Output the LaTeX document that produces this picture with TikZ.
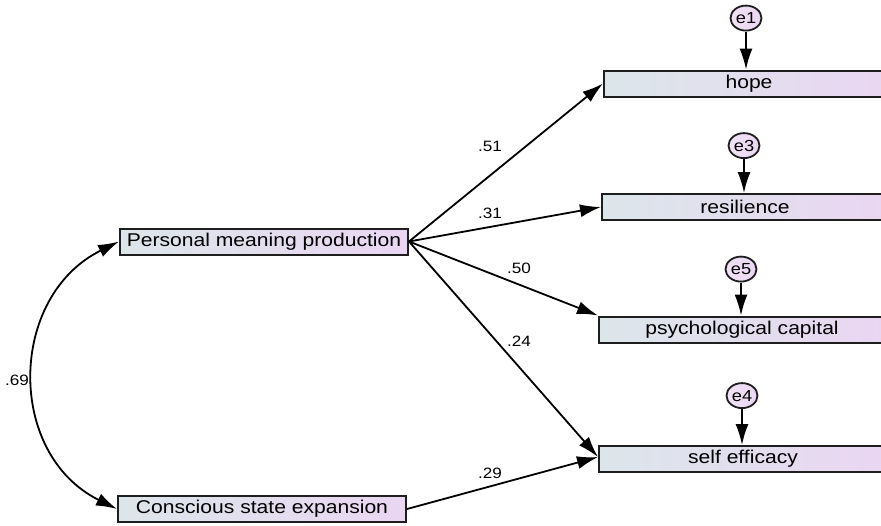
\documentclass[tikz,border=0pt]{standalone}
\usepackage{fontspec}
\setmainfont{Liberation Sans}[FakeStretch=1.14]
\usetikzlibrary{arrows.meta,positioning,shapes.geometric}
\definecolor{bxL}{HTML}{DCE6EA}
\definecolor{bxR}{HTML}{EAD6F2}
\definecolor{edg}{HTML}{1E1E1E}

\begin{document}
\begin{tikzpicture}[x=1pt,y=-1pt,node distance=36pt,
  obs/.style={rectangle,draw=edg,line width=2pt,left color=bxL,right color=bxR,minimum height=26pt,inner sep=0pt,font=\fontsize{18.5}{20}\selectfont},
  err/.style={ellipse,draw=edg,line width=1.8pt,left color=bxR!70!white,right color=bxR,minimum width=31pt,minimum height=25pt,inner sep=0pt,font=\fontsize{16}{17}\selectfont},
  pth/.style={-{Latex[length=21pt,width=13pt]},line width=1.8pt},
  lbl/.style={inner sep=0pt,font=\fontsize{15}{16}\selectfont}]
\useasboundingbox (0,0) rectangle (881,525);
\node[obs,minimum width=288pt,anchor=west] (pmp) at (119,241.5) {Personal meaning production};
\node[obs,minimum width=288pt,anchor=west] (cse) at (117,509) {Conscious state expansion};
\node[obs,minimum width=290pt,anchor=west] (hope) at (603,83.5) {hope};
\node[obs,minimum width=286pt,anchor=west] (res) at (601,207) {resilience};
\node[obs,minimum width=286pt,anchor=west] (psy) at (598,329.5) {psychological capital};
\node[obs,minimum width=288pt,anchor=west] (slf) at (598,459) {self efficacy};
\node[err,above=38pt of hope.north,anchor=south,xshift=-3pt] (e1) {e1};
\node[err,above=34pt of res.north,anchor=south,xshift=-1pt] (e3) {e3};
\node[err,above=33pt of psy.north,anchor=south,xshift=-1pt] (e5) {e5};
\node[err,above=36pt of slf.north,anchor=south,xshift=-1pt] (e4) {e4};
\draw[pth] (e1) -- (e1 |- hope.north);
\draw[pth] (e3) -- (e3 |- res.north);
\draw[pth] (e5) -- (e5 |- psy.north);
\draw[pth] (e4) -- (e4 |- slf.north);
\draw[pth] (pmp.east) -- (hope.west);
\draw[pth] (pmp.east) -- (res.west);
\draw[pth] (pmp.east) -- (psy.north west);
\draw[pth] (pmp.east) -- ([yshift=2pt]slf.west);
\draw[pth] (cse.east) -- ([yshift=2pt]slf.west);
\draw[{Latex[length=21pt,width=13pt]}-{Latex[length=21pt,width=13pt]},line width=1.8pt]
  (pmp.west) .. controls +(-111,55) and +(-111,-55) .. (cse.west);
\node[lbl] (l51) at (490,146) {.51};
\node[lbl] (l31) at (490,213) {.31};
\node[lbl] (l50) at (519,268) {.50};
\node[lbl] (l24) at (519,341) {.24};
\node[lbl] (l29) at (490,473) {.29};
\node[lbl] (l69) at (17,380) {.69};
\end{tikzpicture}
\end{document}
